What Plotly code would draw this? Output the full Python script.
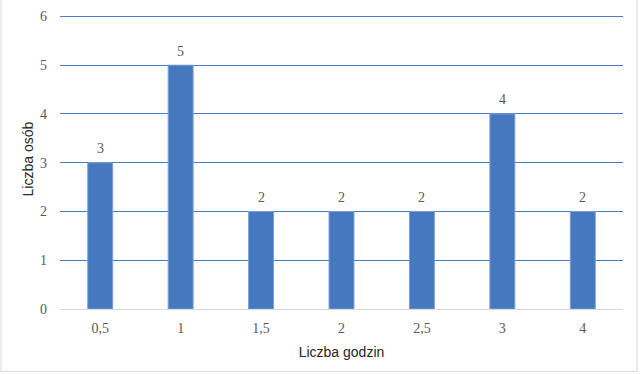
import plotly.graph_objects as go

categories = ["0,5", "1", "1,5", "2", "2,5", "3", "4"]
values = [3, 5, 2, 2, 2, 4, 2]
y_ticks = [0, 1, 2, 3, 4, 5, 6]

fig = go.Figure()
fig.add_trace(go.Bar(
    x=categories, y=values,
    marker=dict(color="#4678C0", line=dict(color="#7A9FD6", width=1)),
    cliponaxis=False,
))

for i, v in enumerate(values):
    fig.add_annotation(x=i, y=v, text=str(v), showarrow=False, yshift=14,
                       font=dict(family="Liberation Serif", size=14, color="#595959"))

fig.add_annotation(xref="paper", yref="paper", x=-0.057, y=0.51, text="Liczba osób",
                   textangle=-90, showarrow=False, xanchor="center", yanchor="middle",
                   font=dict(family="Liberation Sans", size=14, color="#262626"))

fig.update_layout(
    width=640, height=374,
    margin=dict(l=60, r=17, t=14, b=65),
    paper_bgcolor="white", plot_bgcolor="white",
    bargap=0.69,
    showlegend=False,
    xaxis=dict(
        type="category", automargin=False,
        tickfont=dict(family="Liberation Serif", size=14, color="#595959"),
        ticklabelstandoff=6,
        title=dict(text="Liczba godzin", font=dict(family="Liberation Sans", size=14, color="#262626"), standoff=12),
        showgrid=False, showline=True, linecolor="#D9D9D9", linewidth=1, ticks="",
    ),
    yaxis=dict(
        range=[0, 6.05], tickvals=y_ticks, automargin=False,
        tickfont=dict(family="Liberation Serif", size=14, color="#595959"),
        ticklabelstandoff=12,
        showgrid=True, gridcolor="#4A7CC4", gridwidth=1.3, zeroline=False,
        ticks="", ticklen=0,
    ),
    shapes=[dict(type="rect", xref="paper", yref="paper",
                 x0=-0.1048, x1=1.0249, y0=-0.2116, y1=1.0512,
                 line=dict(color="#D9D9D9", width=1))],
)

fig.write_html("out.html")
